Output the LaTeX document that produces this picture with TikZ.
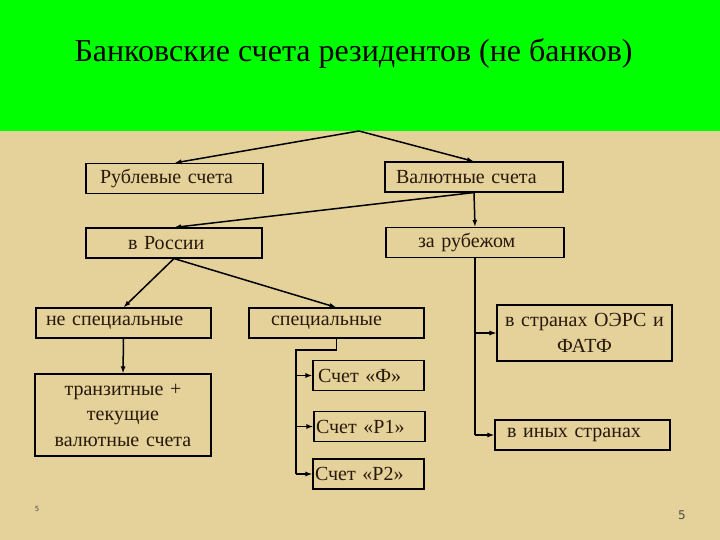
\documentclass[tikz,border=0pt]{standalone}
\usepackage{fontspec}
\setmainfont{Liberation Serif}
\newfontfamily\numfont{DejaVu Sans}
\usetikzlibrary{positioning, arrows.meta, calc}
\definecolor{bandgreen}{RGB}{0,255,0}
\definecolor{slidetan}{RGB}{228,210,154}
\definecolor{inkbrown}{RGB}{40,24,10}

\begin{document}
\begin{tikzpicture}[
        x=1pt, y=-1pt,
        box/.style   = {draw, line width=1.1pt, minimum height=30pt, align=left, text=inkbrown, font=\fontsize{20}{25.5}\selectfont},
        arrow/.style = {-{Latex[length=7pt, width=5pt]}, line width=1.5pt},
        bus/.style   = {line width=1.9pt},
        pagenum/.style = {text=black!70, font=\numfont},
    ]
        %---- background ----
        \fill[slidetan] (0,0) rectangle (720,540);
        \fill[bandgreen] (0,0) rectangle (720,131);
        \useasboundingbox (0,0) rectangle (720,540);
        \node[font=\fontsize{32}{38}\selectfont] (title) at (353.5,53) {Банковские счета резидентов (не банков)};

        %---- first level ----
        \coordinate (top) at (359,131);
        \node[box, text width=149pt, inner xsep=14pt] (rub) at (174.5,178.5) {Рублевые счета};
        \node[box, text width=156pt, inner xsep=11pt] (val) at (474,177) {Валютные счета};
        \draw[arrow] (top) -- (rub.north);
        \draw[arrow] (top) -- (val.north);

        %---- currency accounts ----
        \node[box, text width=92pt, inner xsep=42pt] (ros) at (174,243) {в России};
        \node[box, text width=114pt, inner xsep=32pt] (zar) at (475,242.5) {за рубежом};
        \draw[arrow] (val.south) -- (ros.north);
        \draw[arrow] (val.south) -- (zar.north);

        %---- in Russia ----
        \node[box, text width=155pt, inner xsep=10pt] (nspec) at (123.5,323) {не специальные};
        \node[box, text width=131pt, inner xsep=22pt] (spec) at (336.5,323) {специальные};
        \node[box, align=center, text width=166pt, inner xsep=5pt, minimum height=82pt] (tranz) at (123,415) {транзитные +\\текущие\\валютные счета};
        \draw[arrow] (ros.south) -- (nspec.north);
        \draw[arrow] (ros.south) -- (spec.north);
        \draw[arrow] (nspec.south) -- (tranz.north);

        %---- special accounts ----
        \node[box, text width=101pt, inner xsep=5pt] (schf) at (368.5,375.5) {Счет «Ф»};
        \node[box, text width=107pt, inner xsep=2pt] (schr1) at (369.5,426.5) {Счет «Р1»};
        \node[box, text width=107pt, inner xsep=2pt] (schr2) at (368.5,474) {Счет «Р2»};
        \coordinate (fork) at (296,350);
        \draw[bus] (spec.south) -- (spec.south |- fork) -- (fork) -- (fork |- schr2.west);
        \foreach \n in {schf, schr1, schr2}
            \draw[arrow, line width=1.9pt] (fork |- \n.west) -- (\n.west);

        %---- abroad ----
        \node[box, align=center, text width=173pt, inner xsep=1pt, minimum height=56pt] (oers) at (584.5,333) {в странах ОЭРС и\\ФАТФ};
        \node[box, text width=151pt, inner xsep=12pt] (inyh) at (582.5,435) {в иных странах};
        \draw[line width=1.1pt] (zar.south) -- (zar.south |- inyh.west);
        \draw[arrow, line width=1.1pt] (zar.south |- oers.west) -- (oers.west);
        \draw[arrow] (zar.south |- inyh.west) -- (inyh.west);

        %---- page numbers ----
        \node[pagenum, font=\numfont\fontsize{7}{8}\selectfont] (pnleft) at (37,509) {5};
        \node[pagenum, font=\numfont\fontsize{12}{14}\selectfont] (pnright) at (682,515) {5};
    \end{tikzpicture}
\end{document}
